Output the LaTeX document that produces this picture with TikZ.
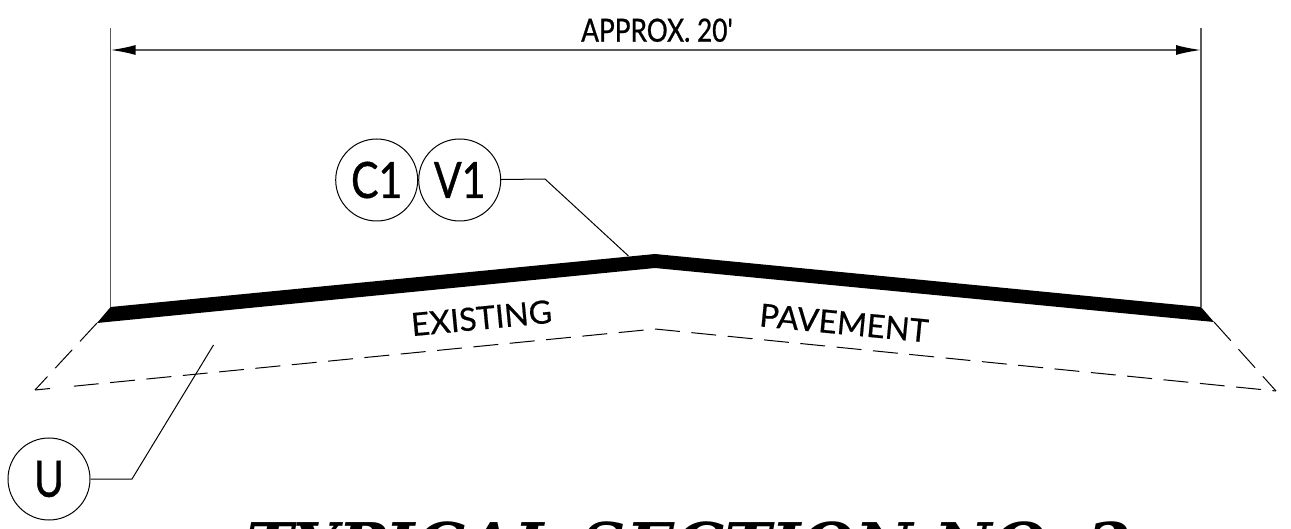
\documentclass[tikz,border=0pt]{standalone}
\usepackage{fontspec}
\setmainfont[FakeBold=0.5]{Lato}
\newfontfamily\narrowfont[FakeStretch=0.82,FakeBold=0.8]{Lato}
\newfontfamily\titlefont{DejaVu Serif}
\usetikzlibrary{positioning}
\usetikzlibrary{arrows.meta}

\begin{document}
\begin{tikzpicture}[x=1pt,y=-1pt]
		\tikzstyle{callout} = [circle, draw=black, line width=1pt, minimum size=82pt, inner sep=0pt, font=\narrowfont\fontsize{50}{50}\selectfont]
		\tikzstyle{leader} = [line width=1pt]
		\tikzstyle{dimline} = [line width=1.5pt, draw=black!65]
		\tikzstyle{hidden} = [line width=1pt, dash pattern=on 25pt off 11.5pt]
		\tikzstyle{lettering} = [font=\fontsize{32}{32}\selectfont, inner sep=0pt]

		\useasboundingbox (0,0) rectangle (1291,529);

		% pavement section
		\coordinate (leftTop) at (110.6,307);
		\coordinate (crownTop) at (655,254);
		\coordinate (rightTop) at (1201,307);
		\coordinate (leftBase) at (97,323);
		\coordinate (crownBase) at (655,268);
		\coordinate (rightBase) at (1214,322);
		\coordinate (leftToe) at (35,390);
		\coordinate (crownLow) at (655,329);
		\coordinate (rightToe) at (1276,391);
		\fill [black] (leftTop) -- (crownTop) -- (rightTop) -- (rightBase) -- (crownBase) -- (leftBase) -- cycle;

		\draw [hidden] (leftBase) -- (leftToe);
		\draw [hidden] (rightBase) -- (rightToe);
		\draw [hidden] (crownLow) -- (rightToe);
		\draw [hidden, dash phase=25pt] (crownLow) -- (71.7,386.4);
		\draw [leader] (50,388.5) -- (leftToe);

		% overall width
		\coordinate (dimLeftTop) at (110.6,28);
		\coordinate (dimRightTop) at (1201,28);
		\coordinate (dimLeft) at (110.6,50);
		\coordinate (dimRight) at (1201,50);
		\draw [dimline] (dimLeftTop) -- (leftTop);
		\draw [dimline] (dimRightTop) -- (rightTop);
		\draw [dimline, {Latex[length=25pt,width=10pt,black]}-{Latex[length=25pt,width=10pt,black]}] (dimLeft) -- (dimRight);
		\node (widthLabel) [lettering, anchor=base] at (657,41.7) {\narrowfont APPROX. 20'};

		% callouts
		\node (coatCircle) [callout] at (376.7,180) {C1};
		\node (veneerCircle) [callout, right=0pt of coatCircle] {V1};
		\node (baseCircle) [callout] at (49,479) {U};
		\coordinate (veneerBend) at (545,179);
		\coordinate (veneerEnd) at (628.5,256);
		\coordinate (baseBend) at (132,479);
		\coordinate (baseEnd) at (213.5,345);
		\draw [leader] (veneerCircle) -- (veneerBend) -- (veneerEnd);
		\draw [leader] (baseCircle) -- (baseBend) -- (baseEnd);

		\node (existingLabel) [lettering, rotate=5.5] at (481.5,318) {EXISTING};
		\node (pavementLabel) [lettering, rotate=-5.5] at (844,323) {PAVEMENT};

		% title, cut off by the page
		\node (sectionTitle) [anchor=base, inner sep=0pt] at (689,568) {\titlefont\bfseries\itshape\fontsize{63}{63}\selectfont TYPICAL SECTION NO. 2};
	\end{tikzpicture}
\end{document}
